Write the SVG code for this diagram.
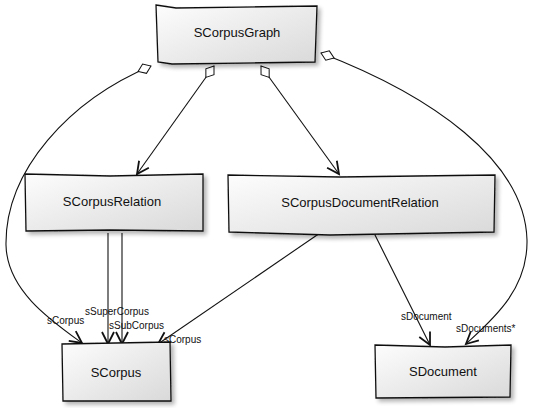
<svg xmlns="http://www.w3.org/2000/svg" width="550" height="408" viewBox="0 0 550 408">
<defs>
<linearGradient id="fill" x1="0" y1="0" x2="1" y2="1">
<stop offset="0" stop-color="#fdfdfd"/>
<stop offset="1" stop-color="#d9d9d9"/>
</linearGradient>
<filter id="shadow" x="-10%" y="-10%" width="130%" height="140%">
<feGaussianBlur in="SourceAlpha" stdDeviation="2"/>
<feOffset dx="3" dy="3" result="b"/>
<feComponentTransfer><feFuncA type="linear" slope="0.3"/></feComponentTransfer>
<feMerge><feMergeNode/><feMergeNode in="SourceGraphic"/></feMerge>
</filter>
<marker id="arrow" markerUnits="userSpaceOnUse" markerWidth="16" markerHeight="16" refX="12" refY="6" orient="auto" overflow="visible">
<path d="M0,0 L12,6 L0,12" fill="none" stroke="#111" stroke-width="1.8" stroke-linejoin="miter"/>
</marker>
<marker id="diamond" markerUnits="userSpaceOnUse" markerWidth="16" markerHeight="12" refX="0" refY="5" orient="auto" overflow="visible">
<path d="M0,5 L7,0 L14,5 L7,10 Z" fill="#fff" stroke="#111" stroke-width="1"/>
</marker>
</defs>
<style>
.box{fill:url(#fill);stroke:#111;stroke-width:1.3;filter:url(#shadow)}
.name{font-family:"Liberation Sans",Arial,sans-serif;font-size:13px;fill:#111;text-anchor:middle}
.lbl{font-family:"Liberation Sans",Arial,sans-serif;font-size:10px;fill:#111}
.edge{fill:none;stroke:#111;stroke-width:1.1}
</style>
<g id="connectors">
<path class="edge" d="M151,66 C70,100 5,170 6,245 C7,290 50,320 82,343" marker-start="url(#diamond)" marker-end="url(#arrow)"/>
<path class="edge" d="M214,66 L137,174" marker-start="url(#diamond)" marker-end="url(#arrow)"/>
<path class="edge" d="M261,66 L339,174" marker-start="url(#diamond)" marker-end="url(#arrow)"/>
<path class="edge" d="M321,53 C430,95 525,160 527,240 C528,290 492,320 466,344" marker-start="url(#diamond)" marker-end="url(#arrow)"/>
<path class="edge" d="M108,233 L108,344" marker-end="url(#arrow)"/>
<path class="edge" d="M122,233 L122,344" marker-end="url(#arrow)"/>
<path class="edge" d="M320,233 L158,344" marker-end="url(#arrow)"/>
<path class="edge" d="M374,233 L430,345" marker-end="url(#arrow)"/>
<text class="lbl" x="47" y="324">sCorpus</text>
<text class="lbl" x="85" y="315">sSuperCorpus</text>
<text class="lbl" x="109" y="329">sSubCorpus</text>
<text class="lbl" x="164" y="343">sCorpus</text>
<text class="lbl" x="401" y="320">sDocument</text>
<text class="lbl" x="456" y="332">sDocuments*</text>
</g>
<g id="SCorpusGraph">
<path class="box" d="M156,5 L176,8 L317,6 L315,62 L172,64 L158,62 Z"/>
<text class="name" x="237" y="37">SCorpusGraph</text>
</g>
<g id="SCorpusRelation">
<path class="box" d="M25,174 L110,176 L203,174 L203,231 L110,230 L26,231 Z"/>
<text class="name" x="112" y="206">SCorpusRelation</text>
</g>
<g id="SCorpusDocumentRelation">
<path class="box" d="M228,175 L340,177 L495,175 L494,232 L330,235 L229,232 Z"/>
<text class="name" x="360" y="207">SCorpusDocumentRelation</text>
</g>
<g id="SCorpus">
<path class="box" d="M62,344 L170,342 L171,401 L63,401 Z"/>
<text class="name" x="116" y="377">SCorpus</text>
</g>
<g id="SDocument">
<path class="box" d="M375,345 L445,347 L511,345 L510,397 L376,398 Z"/>
<text class="name" x="443" y="376">SDocument</text>
</g>
</svg>
